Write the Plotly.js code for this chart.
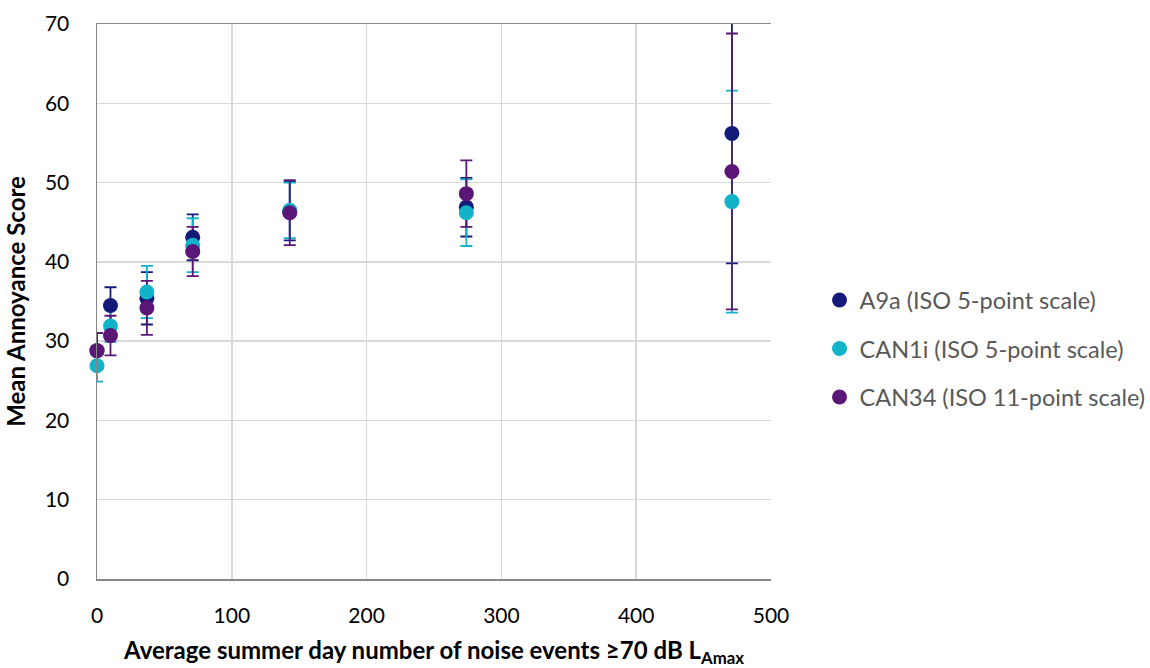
<!DOCTYPE html>
<html>
<head>
<meta charset="utf-8">
<script src="https://cdn.plot.ly/plotly-3.0.1.min.js"></script>
<style>html,body{margin:0;padding:0;background:#fff;}#chart{width:1150px;height:668px;}</style>
</head>
<body>
<div id="chart"></div>
<script>
var events = [0, 10, 37, 71, 143, 274, 471];

var seriesNames = ["A9a (ISO 5-point scale)", "CAN1i (ISO 5-point scale)", "CAN34 (ISO 11-point scale)"];
var seriesColors = ["#141a78", "#12b2c8", "#5b1778"];

var a9aMean = [28.8, 34.5, 35.4, 43.1, 46.4, 46.9, 56.2];
var a9aErr  = [2.2, 2.3, 3.3, 2.9, 3.7, 3.7, 16.4];

var can1iMean = [26.9, 31.9, 36.2, 42.1, 46.5, 46.2, 47.6];
var can1iErr  = [2.0, 2.0, 3.3, 3.4, 3.5, 4.2, 14.0];

var can34Mean = [28.8, 30.7, 34.2, 41.3, 46.2, 48.6, 51.4];
var can34Err  = [2.2, 2.5, 3.4, 3.1, 4.1, 4.2, 17.4];

var means = [a9aMean, can1iMean, can34Mean];
var errs = [a9aErr, can1iErr, can34Err];

var FONT = "Lato, 'Open Sans', sans-serif";
var traces = [];
// error bars first (all beneath the markers), clipped to plot area
for (var i = 0; i < 3; i++) {
  traces.push({
    type: "scatter", mode: "markers", x: events, y: means[i],
    marker: {size: 15, color: seriesColors[i], opacity: 0},
    error_y: {type: "data", array: errs[i], visible: true, color: seriesColors[i], thickness: 1.8, width: 6},
    cliponaxis: true, showlegend: false, hoverinfo: "skip"
  });
}
for (var j = 0; j < 3; j++) {
  traces.push({
    type: "scatter", mode: "markers", x: events, y: means[j], name: seriesNames[j],
    legendgroup: "g" + j,
    marker: {size: 15, color: seriesColors[j]},
    cliponaxis: false
  });
}

var layout = {
  width: 1150, height: 668,
  margin: {l: 97, r: 379, t: 24, b: 89, autoexpand: false},
  paper_bgcolor: "#ffffff", plot_bgcolor: "#ffffff",
  font: {family: FONT, color: "#000000", size: 21},
  showlegend: true,
  legend: {
    x: 1.072, xanchor: "left", y: 0.415, yanchor: "middle",
    font: {family: FONT, size: 23.5, color: "#595959"},
    tracegroupgap: 15, bgcolor: "rgba(0,0,0,0)"
  },
  xaxis: {
    range: [0, 500], tickvals: [0, 100, 200, 300, 400, 500],
    showgrid: true, gridcolor: "#d9d9d9", gridwidth: 1.5,
    showline: true, linecolor: "#878787", linewidth: 1.5, mirror: true,
    zeroline: false, ticks: "", ticklabelstandoff: 17,
    tickfont: {size: 21},
    title: {text: "<b>Average summer day number of noise events ≥70 dB L<sub>Amax</sub></b>", font: {size: 24}, standoff: 17}
  },
  yaxis: {
    range: [0, 70], tickvals: [0, 10, 20, 30, 40, 50, 60, 70],
    showgrid: true, gridcolor: "#d9d9d9", gridwidth: 1.5,
    showline: true, linecolor: "#878787", linewidth: 1.5,
    zeroline: false, ticks: "", ticklabelstandoff: 22,
    tickfont: {size: 21},
    title: {text: "<b>Mean Annoyance Score</b>", font: {size: 24}, standoff: 12}
  }
};

Plotly.newPlot("chart", traces, layout, {displayModeBar: false, staticPlot: true});
</script>
</body>
</html>
